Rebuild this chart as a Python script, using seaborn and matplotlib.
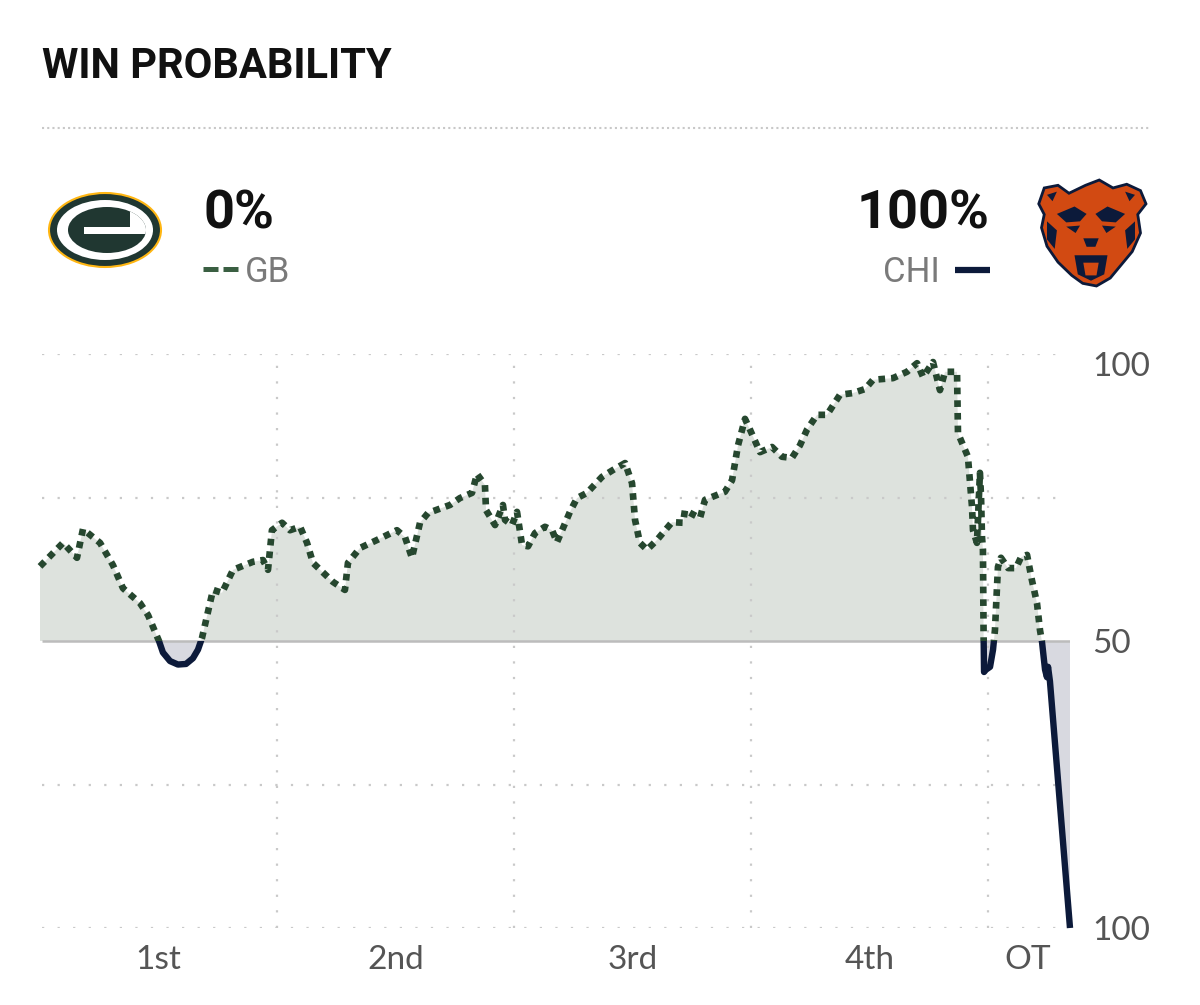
import numpy as np
import pandas as pd
import matplotlib
matplotlib.use("Agg")
import matplotlib.pyplot as plt
import seaborn as sns
from matplotlib.patches import Rectangle, Ellipse, Polygon

# game clock (minutes, 60+ is overtime) and Packers win probability (%)
minutes = [0.00, 1.46, 2.34, 2.72, 3.80, 4.62, 5.25, 6.33, 6.84, 7.53,
           7.78, 8.23, 8.73, 9.24, 9.68, 10.00, 10.25, 10.95, 11.52, 12.22,
           13.48, 14.11, 14.43,
           14.68, 15.32, 15.82, 16.46, 16.90, 17.28, 18.54, 19.30, 19.49, 20.25,
           21.33, 22.59, 23.10, 23.54, 24.05, 24.56, 25.95, 26.58, 27.34, 27.66,
           28.16, 28.23, 28.80, 29.30, 29.43, 29.87, 30.19, 30.51, 30.89, 31.33,
           31.96, 32.41, 32.72, 33.54, 33.99, 34.62, 35.57, 36.27, 37.03, 37.47,
           37.66, 37.97, 38.42, 39.05, 40.00, 40.70, 40.82, 41.77, 42.09, 43.35,
           43.80, 44.18, 44.62, 44.94, 45.57, 46.33, 46.96, 47.59, 48.10, 48.54,
           49.18, 49.81, 50.63, 51.46, 52.22, 52.72, 53.99, 54.87, 55.51, 55.89,
           56.52, 56.96, 57.28, 58.04, 58.10, 58.42, 58.73, 58.86, 58.99, 59.05,
           59.30, 59.49, 59.56, 59.62, 59.68, 59.72, 59.75, 59.87, 60.13, 60.32,
           60.44, 60.63, 60.82, 61.27, 61.77, 62.09, 62.47, 62.78, 63.10, 63.29,
           63.42, 63.61, 63.73, 63.80, 63.92, 65.19]
gb_win_pct = [63.0, 67.1, 64.5, 69.5, 67.1, 63.2, 59.2, 56.6, 54.5, 50.0,
              48.0, 46.5, 45.9, 46.0, 47.0, 48.5, 50.5, 58.9, 58.4, 62.4,
              63.8, 64.1, 62.4,
              69.3, 70.6, 69.3, 69.9, 67.1, 63.6, 60.3, 58.9, 63.6, 66.2,
              67.6, 69.3, 68.1, 64.5, 70.6, 72.3, 73.7, 74.9, 75.8, 79.1,
              77.2, 72.8, 70.2, 73.7, 71.1, 70.2, 72.5, 66.7, 66.5, 68.8,
              69.9, 69.3, 67.2, 72.5, 74.9, 75.8, 78.6, 79.8, 81.0, 77.5,
              71.1, 67.1, 65.9, 67.6, 70.7, 70.6, 72.8, 71.4, 74.6, 76.0,
              78.0, 84.1, 88.7, 86.8, 82.9, 83.8, 82.1, 81.9, 84.1, 86.8,
              89.4, 89.4, 92.9, 93.2, 93.9, 95.5, 95.8, 96.9, 98.4, 96.0,
              98.6, 93.7, 96.9, 96.9, 86.2, 84.1, 82.1, 77.7, 73.3, 69.3,
              67.1, 79.3, 75.1, 68.1, 65.9, 51.4, 44.6, 45.0, 45.5, 48.5,
              51.9, 62.9, 64.5, 62.7, 62.7, 64.6, 65.0, 60.6, 56.6, 51.9,
              49.8, 45.0, 43.7, 45.5, 43.0, 0.0]

quarter_labels = ["1st", "2nd", "3rd", "4th", "OT"]
quarter_label_pos = [7.5, 22.5, 37.5, 52.5, 62.5]
quarter_breaks = [15, 30, 45, 60]
y_tick_vals = [98.2, 50, 0]
y_tick_labels = ["100", "50", "100"]
gb_final = "0%"
chi_final = "100%"

df = pd.DataFrame({"minute": minutes, "gb": gb_win_pct})

GREEN = "#26472f"
NAVY = "#0c1a3a"
GRID = "#c9c9c9"
LABEL = "#555555"
ORANGE = "#d24a12"

sns.set_style("white")
plt.rcParams["font.family"] = ["Roboto", "DejaVu Sans"]

fig = plt.figure(figsize=(12, 10.05), dpi=100)
ax = fig.add_axes([40 / 1200, 77 / 1005, 1030 / 1200, 574 / 1005])

# shaded areas either side of 50%
ax.fill_between(df["minute"], df["gb"], 50, where=df["gb"] >= 50,
                interpolate=True, color="#dde2dd", lw=0, zorder=1)
ax.fill_between(df["minute"], df["gb"], 50, where=df["gb"] <= 50,
                interpolate=True, color="#d8d9e0", lw=0, zorder=1)

# dotted grid
ax.hlines([100, 75, 25, 0], 0.1, 64.4, colors=GRID, linestyles=(0, (1, 6)),
          lw=1.6, zorder=2)
ax.vlines(quarter_breaks, 0, 100, colors=GRID, linestyles=(0, (1, 6)),
          lw=1.6, zorder=2)
ax.hlines(50, 0.1, 65.19, colors="#bcbcbc", lw=1.8, zorder=2)

# GB part (dotted, above 50) and CHI part (solid, below 50)
sns.lineplot(data=df, x="minute", y="gb", ax=ax, color=GREEN, lw=4.8,
             estimator=None, sort=False, zorder=3)
gb_line = ax.lines[-1]
gb_line.set_linestyle((0, (1, 0.9)))
gb_line.set_dash_capstyle("butt")
gb_line.set_clip_path(Rectangle((-5, 50), 80, 60, transform=ax.transData))

sns.lineplot(data=df, x="minute", y="gb", ax=ax, color=NAVY, lw=4.6,
             estimator=None, sort=False, zorder=3)
chi_line = ax.lines[-1]
chi_line.set_solid_capstyle("butt")
chi_line.set_solid_joinstyle("round")
chi_line.set_clip_path(Rectangle((-5, -10), 80, 60, transform=ax.transData))

ax.set_xlim(0, 65.19)
ax.set_ylim(0, 100)
ax.set_xlabel("")
ax.set_ylabel("")
ax.set_xticks(quarter_label_pos, quarter_labels)
ax.yaxis.tick_right()
ax.set_yticks(y_tick_vals, y_tick_labels)
ax.tick_params(axis="x", length=0, pad=12, labelsize=24, labelcolor=LABEL)
ax.tick_params(axis="y", length=0, pad=16, labelsize=24, labelcolor=LABEL)
for lab in ax.get_xticklabels() + ax.get_yticklabels():
    lab.set_fontfamily(["Lato", "DejaVu Sans"])
sns.despine(ax=ax, left=True, bottom=True)
ax.patch.set_alpha(0)

# header drawn in pixel coordinates
ov = fig.add_axes([0, 0, 1, 1], zorder=-1)
ov.set_xlim(0, 1200)
ov.set_ylim(1005, 0)
ov.axis("off")

ov.text(42, 78, "WIN PROBABILITY", fontsize=30, fontweight="bold",
        color="#111111", va="baseline")
ov.hlines(128, 42, 1150, colors="#c8c8c8", linestyles=(0, (1, 1.5)), lw=1.5)

ov.text(203, 228, gb_final, fontsize=39, fontweight="bold", color="#111111",
        va="baseline")
ov.text(990, 228, chi_final, fontsize=39, fontweight="bold", color="#111111",
        va="baseline", ha="right")
ov.text(245, 282, "GB", fontsize=25, color="#7a7a7a", va="baseline")
ov.text(940, 282, "CHI", fontsize=25, color="#7a7a7a", va="baseline", ha="right")
ov.plot([203, 238], [269, 269], color="#3a5f42", lw=3.6, dashes=(3, 1),
        dash_capstyle="butt")
ov.plot([955, 990], [270, 270], color=NAVY, lw=4.5, solid_capstyle="butt")

# Packers logo
ov.add_patch(Ellipse((105, 230), 112, 74, facecolor="#203731",
                     edgecolor="#ffb612", lw=1.5))
ov.add_patch(Ellipse((105, 230), 96, 60, facecolor="white", lw=0))
g_oval = Ellipse((107, 230), 78, 46, facecolor="#203731", lw=0)
ov.add_patch(g_oval)
for r in (Rectangle((84, 227), 70, 7, facecolor="white", lw=0),
          Rectangle((130, 200), 30, 27, facecolor="white", lw=0)):
    ov.add_patch(r)
    r.set_clip_path(g_oval)

# Bears logo (simplified)
cx, cy, sx, sy = 1091, 233, 55, 53
head = [(-0.95, -0.55), (-0.85, -0.85), (-0.6, -0.9), (-0.4, -0.75),
        (-0.1, -0.9), (0.15, -1.0), (0.4, -0.85), (0.65, -0.92), (0.9, -0.8),
        (1.0, -0.55), (0.85, -0.35), (0.9, 0.0), (0.75, 0.35), (0.55, 0.6),
        (0.35, 0.85), (0.1, 1.0), (-0.15, 0.95), (-0.35, 0.8), (-0.6, 0.55),
        (-0.8, 0.25), (-0.9, -0.1), (-0.85, -0.35)]
brow_l = [(-0.62, -0.36), (-0.3, -0.5), (-0.08, -0.36), (-0.2, -0.22),
          (-0.45, -0.2)]
brow_r = [(-x, y) for x, y in brow_l]
eye_l = [(-0.45, -0.12), (-0.2, -0.14), (-0.28, 0.0)]
eye_r = [(-x, y) for x, y in eye_l]
mouth = [(-0.3, 0.42), (0.3, 0.42), (0.24, 0.78), (0.0, 0.9), (-0.24, 0.78)]
tongue = [(-0.14, 0.56), (0.14, 0.56), (0.1, 0.8), (-0.1, 0.8)]
nose = [(-0.14, 0.1), (0.14, 0.1), (0.08, 0.26), (-0.08, 0.26)]
cheek_l = [(-0.8, -0.22), (-0.62, -0.05), (-0.66, 0.3), (-0.8, 0.12)]
cheek_r = [(-x, y) for x, y in cheek_l]
ear_l = [(-0.8, -0.72), (-0.62, -0.78), (-0.7, -0.6)]
ear_r = [(-x, y) for x, y in ear_l]


def px(pts):
    return [(cx + u * sx, cy + v * sy) for u, v in pts]


ov.add_patch(Polygon(px(head), closed=True, facecolor=ORANGE,
                     edgecolor=NAVY, lw=2))
for shape in (brow_l, brow_r, eye_l, eye_r, mouth, nose, cheek_l, cheek_r,
              ear_l, ear_r):
    ov.add_patch(Polygon(px(shape), closed=True, facecolor=NAVY, lw=0))
ov.add_patch(Polygon(px(tongue), closed=True, facecolor=ORANGE, lw=0))

fig.savefig("out.png", dpi=100)
